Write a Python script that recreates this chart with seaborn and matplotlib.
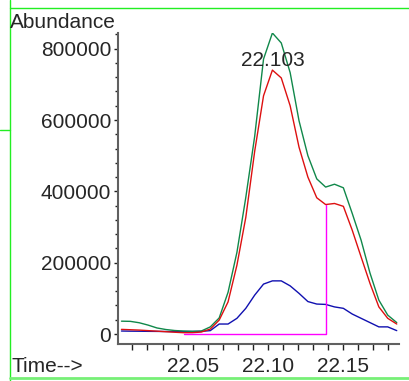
import matplotlib
matplotlib.use('Agg')
import matplotlib.pyplot as plt
from matplotlib.lines import Line2D
from matplotlib.ticker import MultipleLocator, FormatStrFormatter
import seaborn as sns

# scan times (min)
times = [22.0027, 22.0086, 22.0145, 22.0204, 22.0263, 22.0322, 22.0381, 22.0440,
         22.0499, 22.0558, 22.0618, 22.0677, 22.0736, 22.0795, 22.0854, 22.0913,
         22.0972, 22.1031, 22.1090, 22.1149, 22.1208, 22.1267, 22.1326, 22.1385,
         22.1444, 22.1503, 22.1562, 22.1621, 22.1680, 22.1739, 22.1798, 22.1858]

# abundance traces
green_trace = [36000, 35500, 31600, 25000, 17000, 12600, 9800, 8400, 7500, 8400,
               20000, 45000, 117000, 229000, 383000, 554000, 771000, 844000, 816000,
               733000, 598000, 500000, 435000, 412000, 420000, 410000, 338000,
               263000, 171000, 95000, 53000, 32000]
red_trace = [13000, 12000, 11000, 9500, 8000, 6500, 5000, 3700, 3700, 5500,
             14000, 39000, 90000, 193000, 327000, 512000, 668000, 740000, 718000,
             640000, 524000, 440000, 382000, 363000, 366000, 358000, 291000,
             216000, 142000, 76000, 44000, 28000]
blue_trace = [8400, 8000, 7800, 7500, 7300, 7000, 7000, 7000, 7200, 7500,
              9500, 28000, 28000, 44000, 72000, 109000, 140000, 149000, 149000,
              135000, 114000, 91000, 84000, 83000, 76000, 72000, 56000, 44000,
              32000, 20000, 20000, 9500]

# integration limits and peak label
start_idx = 7
end_idx = 23
peak_idx = 17
peak_label = '22.103'

sns.set_theme(style='white')
plt.rcParams['font.family'] = ['Liberation Sans', 'DejaVu Sans']

fig = plt.figure(figsize=(4.09, 3.81), dpi=100)
ax = fig.add_axes([118 / 409, 37 / 381, 281 / 409, 311 / 381])

sns.lineplot(x=times, y=blue_trace, color='#1010b0', lw=1.0, ax=ax)
sns.lineplot(x=times, y=green_trace, color='#10884a', lw=1.0, ax=ax)
sns.lineplot(x=times, y=red_trace, color='#dd1010', lw=1.0, ax=ax)

# integration baseline
ax.plot([times[start_idx], times[end_idx], times[end_idx]],
        [0, 0, red_trace[end_idx]], color='#ff00ff', lw=1.0)

ax.text(times[peak_idx], 752000, peak_label, ha='center', va='baseline', fontsize=15)

ax.set_xlim(22.0004, 22.1873)
ax.set_ylim(-28000, 844000)

ax.xaxis.set_major_locator(MultipleLocator(0.05))
ax.xaxis.set_minor_locator(MultipleLocator(0.01))
ax.xaxis.set_major_formatter(FormatStrFormatter('%.2f'))
ax.yaxis.set_major_locator(MultipleLocator(200000))
ax.yaxis.set_minor_locator(MultipleLocator(40000))
ax.yaxis.set_major_formatter(FormatStrFormatter('%d'))

ax.tick_params(axis='x', which='both', direction='out', length=4, width=1,
               color='#202020', bottom=True, labelsize=15, pad=5)
ax.tick_params(axis='y', which='major', direction='out', length=3, width=1,
               color='#202020', left=True, labelsize=15, pad=2)
ax.tick_params(axis='y', which='minor', direction='out', length=2, width=1,
               color='#202020', left=True)

for side in ['top', 'right']:
    ax.spines[side].set_visible(False)
for side in ['left', 'bottom']:
    ax.spines[side].set_color('#606060')
    ax.spines[side].set_linewidth(1.5)

fig.text(10 / 409, 1 - 28 / 381, 'Abundance', ha='left', va='baseline', fontsize=15)
fig.text(12 / 409, 1 - 372 / 381, 'Time-->', ha='left', va='baseline', fontsize=15)

# page frame lines
fig.add_artist(Line2D([9.5 / 409, 1], [1 - 8 / 381, 1 - 8 / 381], color='#22ee22', lw=1.0))
fig.add_artist(Line2D([9.5 / 409, 9.5 / 409], [0, 1], color='#22ee22', lw=1.0))
fig.add_artist(Line2D([9.5 / 409, 1], [1 - 378 / 381, 1 - 378 / 381], color='#77f077', lw=2.0))
fig.add_artist(Line2D([0, 9.5 / 409], [1 - 130 / 381, 1 - 130 / 381], color='#22ee22', lw=1.0))

fig.savefig('out.png', dpi=100)
